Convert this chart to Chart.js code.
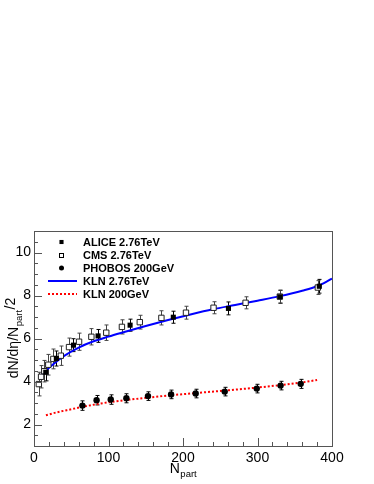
<!DOCTYPE html>
<html>
<head>
<meta charset="utf-8">
<script src="https://cdn.jsdelivr.net/npm/chart.js@4/dist/chart.umd.min.js"></script>
<style>
  html, body { margin: 0; padding: 0; background: #fff; }
  canvas { display: block; }
</style>
</head>
<body>
<canvas id="chart" width="374" height="484"></canvas>
<script>
// values
const aliceNpart = [15.8, 30, 53, 86, 129, 187, 261, 330, 383];
const aliceVal = [4.43, 5.07, 5.69, 6.12, 6.62, 6.99, 7.40, 7.94, 8.43];
const aliceErr = [0.40, 0.35, 0.30, 0.30, 0.28, 0.28, 0.30, 0.30, 0.32];

const cmsNpart = [6.5, 9.5, 13.8, 19.2, 26, 36, 47, 60.5, 77, 97, 118, 142, 171, 204, 241, 284, 330, 381];
const cmsVal = [3.88, 4.22, 4.48, 4.78, 5.05, 5.20, 5.60, 5.85, 6.08, 6.27, 6.54, 6.76, 6.96, 7.20, 7.43, 7.66, 7.95, 8.37];
const cmsErr = [0.55, 0.52, 0.50, 0.48, 0.46, 0.45, 0.42, 0.40, 0.38, 0.36, 0.33, 0.32, 0.33, 0.30, 0.28, 0.28, 0.30, 0.32];

const phobosNpart = [65, 84, 103, 124, 153, 184, 217, 256, 299, 331, 358];
const phobosVal = [2.88, 3.13, 3.16, 3.22, 3.32, 3.40, 3.44, 3.53, 3.67, 3.81, 3.89];
const phobosErr = [0.22, 0.22, 0.22, 0.21, 0.20, 0.20, 0.20, 0.20, 0.20, 0.20, 0.21];

const klnLhcNpart = [7, 15, 25, 40, 60, 80, 100, 120, 150, 180, 210, 240, 270, 300, 330, 360, 380, 400];
const klnLhcVal = [4.22, 4.47, 4.78, 5.18, 5.58, 5.87, 6.09, 6.29, 6.58, 6.86, 7.12, 7.36, 7.56, 7.76, 7.97, 8.22, 8.43, 8.78];

const klnRhicNpart = [16, 30, 50, 65, 90, 120, 150, 190, 230, 260, 300, 330, 360, 380];
const klnRhicVal = [2.43, 2.56, 2.71, 2.82, 2.98, 3.12, 3.24, 3.38, 3.50, 3.59, 3.72, 3.83, 3.96, 4.07];

const xTickLabels = [0, 100, 200, 300, 400];
const yTickLabels = [2, 4, 6, 8, 10];

const FONT = '"Liberation Sans", Arial, Helvetica, sans-serif';
const FRAME = '#555';

const pts = (xs, ys) => xs.map((x, i) => ({ x: x, y: ys[i] }));

// vertical error bars under the markers
const errorBars = {
  id: 'errorBars',
  beforeDatasetsDraw(chart) {
    const { ctx, scales: { x, y } } = chart;
    ctx.save();
    chart.data.datasets.forEach((ds) => {
      if (!ds.errors) return;
      ctx.strokeStyle = ds.errColor || '#000';
      ctx.lineWidth = 1;
      ds.data.forEach((p, i) => {
        const px = Math.round(x.getPixelForValue(p.x)) + 0.5;
        const y1 = y.getPixelForValue(p.y - ds.errors[i]);
        const y2 = y.getPixelForValue(p.y + ds.errors[i]);
        ctx.beginPath();
        ctx.moveTo(px, y1); ctx.lineTo(px, y2);
        ctx.moveTo(px - 2, y1); ctx.lineTo(px + 2, y1);
        ctx.moveTo(px - 2, y2); ctx.lineTo(px + 2, y2);
        ctx.stroke();
      });
    });
    ctx.restore();
  }
};

// ROOT style frame with inward ticks, axis titles and legend
const frame = {
  id: 'frame',
  afterDraw(chart) {
    const { ctx, chartArea: a, scales: { x, y } } = chart;
    ctx.save();
    ctx.strokeStyle = FRAME;
    ctx.lineWidth = 1;
    ctx.strokeRect(a.left + 0.5, a.top + 0.5, a.right - a.left, a.bottom - a.top);

    ctx.beginPath();
    for (let v = 0; v <= 400; v += 20) {
      const px = Math.round(x.getPixelForValue(v)) + 0.5;
      const len = v % 100 === 0 ? 8 : 4;
      ctx.moveTo(px, a.bottom); ctx.lineTo(px, a.bottom - len);
    }
    for (let v = 1; v <= 11.001; v += 0.5) {
      const py = Math.round(y.getPixelForValue(v)) + 0.5;
      const len = v % 2 === 0 ? 8 : 4;
      ctx.moveTo(a.left, py); ctx.lineTo(a.left + len, py);
    }
    ctx.stroke();

    // x title: N_part
    ctx.fillStyle = '#000';
    ctx.textBaseline = 'alphabetic';
    ctx.font = '14px ' + FONT;
    const wN = ctx.measureText('N').width;
    ctx.font = '9.5px ' + FONT;
    const wSub = ctx.measureText('part').width;
    let tx = (a.left + a.right) / 2 - (wN + wSub) / 2;
    ctx.font = '14px ' + FONT;
    ctx.fillText('N', tx, 473);
    ctx.font = '9.5px ' + FONT;
    ctx.fillText('part', tx + wN + 0.5, 477);

    // y title: dN/dη/N_part/2
    ctx.translate(18, (a.top + a.bottom) / 2);
    ctx.rotate(-Math.PI / 2);
    ctx.font = '14px ' + FONT;
    const w1 = ctx.measureText('dN/dη/N').width;
    const w3 = ctx.measureText('/2').width;
    ctx.font = '9.5px ' + FONT;
    const w2 = ctx.measureText('part').width;
    let sx = -(w1 + w2 + w3) / 2;
    ctx.font = '14px ' + FONT;
    ctx.fillText('dN/dη/N', sx, 0);
    ctx.font = '9.5px ' + FONT;
    ctx.fillText('part', sx + w1 + 0.5, 4);
    ctx.font = '14px ' + FONT;
    ctx.fillText('/2', sx + w1 + w2 + 1, -3);
    ctx.restore();

    // legend
    ctx.save();
    ctx.font = 'bold 11px ' + FONT;
    ctx.textBaseline = 'middle';
    ctx.fillStyle = '#000';
    const rows = [242, 255, 268, 281, 294];
    chart.data.datasets.forEach((ds) => {
      const ly = rows[ds.legendRow];
      if (ds.showLine) {
        ctx.strokeStyle = ds.borderColor;
        ctx.lineWidth = ds.borderWidth;
        ctx.setLineDash(ds.borderDash || []);
        ctx.beginPath();
        ctx.moveTo(48, ly); ctx.lineTo(77, ly);
        ctx.stroke();
        ctx.setLineDash([]);
      } else if (ds.pointStyle === 'circle') {
        ctx.beginPath();
        ctx.arc(61.5, ly, 2.5, 0, Math.PI * 2);
        ctx.fill();
      } else {
        const s = ds.pointRadius * Math.SQRT1_2 - 0.5;
        if (ds.backgroundColor === '#000') {
          ctx.fillRect(61.5 - s, ly - s, 2 * s, 2 * s);
        } else {
          ctx.strokeStyle = '#000';
          ctx.lineWidth = 1;
          ctx.strokeRect(Math.round(61.5 - s) + 0.5, Math.round(ly - s) + 0.5, Math.round(2 * s), Math.round(2 * s));
        }
      }
      ctx.fillStyle = '#000';
      ctx.fillText(ds.label, 83, ly + 0.5);
    });
    ctx.restore();
  }
};

new Chart(document.getElementById('chart'), {
  type: 'scatter',
  data: {
    datasets: [
      {
        label: 'ALICE 2.76TeV',
        legendRow: 0,
        data: pts(aliceNpart, aliceVal),
        errors: aliceErr,
        pointStyle: 'rect',
        pointRadius: 3.6,
        backgroundColor: '#000',
        borderColor: '#000',
        borderWidth: 0,
        order: 1
      },
      {
        label: 'CMS 2.76TeV',
        legendRow: 1,
        data: pts(cmsNpart, cmsVal),
        errors: cmsErr,
        errColor: '#444',
        pointStyle: 'rect',
        pointRadius: 3.8,
        backgroundColor: '#fff',
        borderColor: '#222',
        borderWidth: 1,
        order: 2
      },
      {
        label: 'PHOBOS 200GeV',
        legendRow: 2,
        data: pts(phobosNpart, phobosVal),
        errors: phobosErr,
        pointStyle: 'circle',
        pointRadius: 3.2,
        backgroundColor: '#000',
        borderColor: '#000',
        borderWidth: 0,
        order: 1
      },
      {
        label: 'KLN 2.76TeV',
        legendRow: 3,
        data: pts(klnLhcNpart, klnLhcVal),
        showLine: true,
        cubicInterpolationMode: 'monotone',
        borderColor: '#0000ff',
        borderWidth: 2,
        pointRadius: 0,
        order: 3
      },
      {
        label: 'KLN 200GeV',
        legendRow: 4,
        data: pts(klnRhicNpart, klnRhicVal),
        showLine: true,
        cubicInterpolationMode: 'monotone',
        borderColor: '#ff0000',
        borderWidth: 2,
        borderDash: [2, 2],
        pointRadius: 0,
        order: 3
      }
    ]
  },
  options: {
    responsive: false,
    animation: false,
    layout: { padding: { top: 231, right: 42, left: 0, bottom: 0 } },
    plugins: { legend: { display: false }, tooltip: { enabled: false } },
    scales: {
      x: {
        type: 'linear',
        min: 0,
        max: 400,
        border: { display: false },
        grid: { display: false, drawTicks: false },
        afterBuildTicks: (scale) => { scale.ticks = xTickLabels.map(v => ({ value: v })); },
        afterFit: (scale) => { scale.height = 38; },
        ticks: { color: '#000', padding: 4, font: { family: FONT, size: 14 }, maxRotation: 0 }
      },
      y: {
        type: 'linear',
        min: 1,
        max: 11,
        border: { display: false },
        grid: { display: false, drawTicks: false },
        afterBuildTicks: (scale) => { scale.ticks = yTickLabels.map(v => ({ value: v })); },
        afterFit: (scale) => { scale.width = 34; },
        ticks: { color: '#000', padding: 3, font: { family: FONT, size: 14 } }
      }
    }
  },
  plugins: [errorBars, frame]
});
</script>
</body>
</html>
